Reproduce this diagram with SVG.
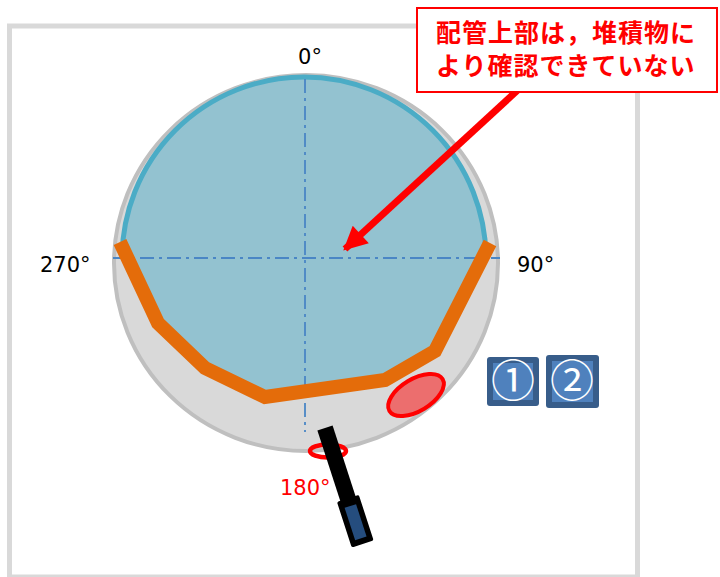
<svg xmlns="http://www.w3.org/2000/svg" width="720" height="577" viewBox="0 0 720 577">
  <style>
    .deg { font-family: "DejaVu Sans", Verdana, sans-serif; font-size: 21px; }
    .axis { fill: none; stroke: #4a86c5; stroke-width: 1.8; stroke-dasharray: 14 5 3 5; }
    .btn-outer { fill: #385d8a; }
    .btn-inner { fill: #4f81bd; }
    .btn-text { font-family: "Noto Sans CJK JP", "DejaVu Sans", sans-serif; font-size: 44px; fill: #ffffff; text-anchor: middle; }
    .note { font-family: "Noto Sans CJK JP", sans-serif; font-size: 25px; font-weight: bold; fill: #ff0000; letter-spacing: 1px; }
  </style>
  <defs>
    <clipPath id="clipUpper">
      <polygon points="114,243 158,323 205,368 265,397 385,380 435,351 492,243 492,0 114,0"/>
    </clipPath>
    <marker id="arrowHead" viewBox="0 0 10 10" refX="9" refY="5" markerWidth="3.6" markerHeight="3.4" orient="auto" markerUnits="strokeWidth">
      <path d="M0,0 L10,5 L0,10 z" fill="#ff0000"/>
    </marker>
  </defs>

  <rect width="720" height="577" fill="#ffffff"/>

  <!-- outer frame -->
  <rect id="frame" x="9.5" y="26" width="628" height="551" fill="none" stroke="#d9d9d9" stroke-width="5"/>

  <!-- pipe cross-section -->
  <g id="pipe">
    <ellipse cx="306" cy="263" rx="192" ry="188" fill="#d9d9d9" stroke="#bfbfbf" stroke-width="4"/>
    <circle cx="304" cy="259" r="182" fill="#93c2d0" stroke="#4bacc6" stroke-width="5" clip-path="url(#clipUpper)"/>
  </g>

  <!-- dash-dot centre lines -->
  <g id="axes">
    <line class="axis" x1="113" y1="258" x2="500" y2="258"/>
    <line class="axis" x1="305" y1="79" x2="305" y2="432"/>
  </g>

  <!-- deposit surface line -->
  <g id="deposit-line">
    <polyline points="120,242 158,323 205,368 265,397 385,380 435,351 490,243" fill="none" stroke="#e46c0a" stroke-width="14" stroke-linejoin="miter"/>
  </g>

  <!-- highlighted region near 135° -->
  <g id="highlight">
    <ellipse cx="416" cy="395" rx="31" ry="16" transform="rotate(-31 416 395)" fill="#ec6e6e" stroke="#ff0000" stroke-width="4"/>
  </g>

  <!-- insertion point marker at 180° -->
  <g id="marker-180">
    <ellipse cx="328" cy="451" rx="18" ry="6.5" fill="none" stroke="#ff0000" stroke-width="4.5"/>
  </g>

  <!-- probe -->
  <g id="probe" transform="translate(325 428) rotate(-18)">
    <rect x="-8" y="0" width="16" height="78" fill="#000000"/>
    <rect x="-11.5" y="74" width="23" height="48" rx="2" fill="#000000"/>
    <rect x="-6" y="82" width="12" height="34" fill="#254d7e"/>
  </g>

  <!-- angle labels -->
  <g id="labels">
    <text class="deg" x="310" y="64" text-anchor="middle">0°</text>
    <text class="deg" x="40" y="272">270°</text>
    <text class="deg" x="517" y="272">90°</text>
    <text class="deg" x="280" y="495" fill="#ff0000">180°</text>
  </g>

  <!-- numbered buttons -->
  <g id="button-1">
    <rect class="btn-outer" x="487" y="357" width="52" height="49" rx="3"/>
    <rect class="btn-inner" x="493" y="363" width="40" height="37"/>
    <text class="btn-text" x="513" y="397">①</text>
  </g>
  <g id="button-2">
    <rect class="btn-outer" x="546" y="355" width="53" height="53" rx="3"/>
    <rect class="btn-inner" x="552" y="361" width="41" height="41"/>
    <text class="btn-text" x="572" y="397">②</text>
  </g>

  <!-- callout arrow -->
  <g id="connectors">
    <line x1="520" y1="88" x2="345" y2="249" stroke="#ff0000" stroke-width="7" marker-end="url(#arrowHead)"/>
  </g>

  <!-- callout box -->
  <g id="callout">
    <rect x="417" y="8" width="300" height="84" fill="#ffffff" stroke="#ff0000" stroke-width="2"/>
    <text class="note" x="436" y="42">配管上部は，堆積物に</text>
    <text class="note" x="436" y="75">より確認できていない</text>
  </g>
</svg>
